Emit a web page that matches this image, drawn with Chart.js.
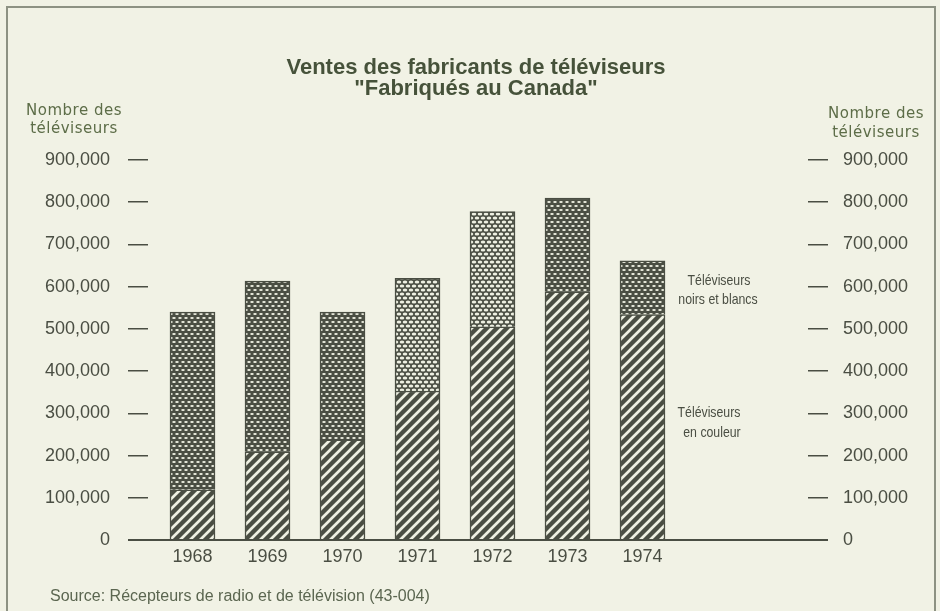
<!DOCTYPE html>
<html><head><meta charset="utf-8">
<script src="https://cdn.jsdelivr.net/npm/chart.js@4.4.0/dist/chart.umd.min.js"></script>
<style>html,body{margin:0;padding:0;background:#f1f2e5;}#wrap{width:940px;height:611px;position:relative;}</style>
</head><body><div id="wrap"><canvas id="c" width="940" height="611"></canvas></div>
<script>
// ---- data ----
const years = [1968, 1969, 1970, 1971, 1972, 1973, 1974];
const colourSets = [119000, 209000, 237000, 353000, 505000, 588000, 534000];
const blackWhiteSets = [421000, 404000, 303000, 267000, 273000, 222000, 127000];
const yTicks = [0, 100000, 200000, 300000, 400000, 500000, 600000, 700000, 800000, 900000];
const titleLines = ['Ventes des fabricants de téléviseurs', '"Fabriqués au Canada"'];
const axisTitleLines = ['Nombre des', 'téléviseurs'];
const bwNote = ['Téléviseurs', 'noirs et blancs'];
const colourNote = ['Téléviseurs', 'en couleur'];
const sourceNote = 'Source: Récepteurs de radio et de télévision (43-004)';

// ---- style ----
const BG = '#f1f2e5', DARK = '#4a4e43', LIGHT = '#eef0e2', TXT = '#4a4e43',
      TITLE = '#46523a', AXT = '#5d6d48', FRAME = '#8d9283';
const lightYears = [1971, 1972];

const canvas = document.getElementById('c');
const ctx = canvas.getContext('2d');

function makeHatch() {
  const t = document.createElement('canvas'); t.width = 10; t.height = 10;
  const g = t.getContext('2d');
  g.fillStyle = DARK; g.fillRect(0, 0, 10, 10);
  g.strokeStyle = LIGHT; g.lineWidth = 2.7; g.beginPath();
  for (const o of [-10, 0, 10]) { g.moveTo(o - 1, 11); g.lineTo(o + 11, -1); }
  g.stroke();
  return ctx.createPattern(t, 'repeat');
}
function makeDots(rx, ry) {
  const t = document.createElement('canvas'); t.width = 6; t.height = 8;
  const g = t.getContext('2d');
  g.fillStyle = DARK; g.fillRect(0, 0, 6, 8);
  g.fillStyle = LIGHT;
  for (const [x, y] of [[3, 2], [0, 6], [6, 6]]) {
    g.beginPath(); g.ellipse(x, y, rx, ry, 0, 0, Math.PI * 2); g.fill();
  }
  return ctx.createPattern(t, 'repeat');
}
const hatch = makeHatch();
const dotsDark = makeDots(1.8, 1.1);
const dotsLight = makeDots(2.3, 1.5);

const deco = {
  id: 'deco',
  beforeDraw(chart) {
    const c = chart.ctx; c.save();
    c.fillStyle = BG; c.fillRect(0, 0, chart.width, chart.height);
    c.strokeStyle = FRAME; c.lineWidth = 2;
    c.strokeRect(7, 7, 928, 650);
    c.restore();
  },
  afterDraw(chart) {
    const c = chart.ctx; c.save();
    c.textAlign = 'center';
    c.fillStyle = TITLE; c.font = 'bold 22px "Liberation Sans", Arial, sans-serif';
    c.textBaseline = 'alphabetic';
    c.fillText(titleLines[0], 476, 74);
    c.fillText(titleLines[1], 476, 95);
    c.textBaseline = 'middle';
    c.fillStyle = AXT; c.font = '15px "DejaVu Sans", sans-serif';
    try { c.letterSpacing = '0.5px'; } catch (e) {}
    c.fillText(axisTitleLines[0], 74, 111);
    c.fillText(axisTitleLines[1], 74, 129);
    c.fillText(axisTitleLines[0], 876, 114);
    c.fillText(axisTitleLines[1], 876, 133);
    try { c.letterSpacing = '0px'; } catch (e) {}
    c.fillStyle = TXT; c.font = '15px "Liberation Sans", Arial, sans-serif';
    const narrow = (s, x, y) => { c.save(); c.translate(x, y); c.scale(0.82, 1); c.fillText(s, 0, 0); c.restore(); };
    narrow(bwNote[0], 719, 281); narrow(bwNote[1], 718, 300);
    narrow(colourNote[0], 709, 413); narrow(colourNote[1], 712, 433);
    c.textAlign = 'left'; c.font = '16px "Liberation Sans", Arial, sans-serif';
    c.fillStyle = '#5b6650';
    c.fillText(sourceNote, 50, 597);
    c.restore();
  }
};

const tickFont = { family: '"Liberation Sans", Arial, sans-serif', size: 18 };
const yScaleBase = (pos) => ({
  position: pos, stacked: true, min: 0, max: 900000,
  afterBuildTicks: s => { s.ticks = yTicks.map(v => ({ value: v })); },
  ticks: { font: tickFont, color: TXT, padding: pos === 'left' ? 18 : 15,
           callback: v => Number(v).toLocaleString('en-US') },
  grid: { display: true, drawOnChartArea: false, drawTicks: true, tickLength: 20,
          color: DARK, lineWidth: c => (c.tick && c.tick.value === 0) ? 2 : 1.5 },
  border: { display: false },
  afterFit: s => { s.width = pos === 'left' ? 148 : 132; }
});

new Chart(ctx, {
  type: 'bar',
  data: {
    labels: years,
    datasets: [
      { label: 'Téléviseurs en couleur', data: colourSets, backgroundColor: hatch,
        borderColor: DARK, borderWidth: 1.5, barThickness: 45, yAxisID: 'y' },
      { label: 'Téléviseurs noirs et blancs', data: blackWhiteSets,
        backgroundColor: c => lightYears.includes(years[c.dataIndex]) ? dotsLight : dotsDark,
        borderColor: DARK, borderWidth: 1.5, barThickness: 45, yAxisID: 'y' }
    ]
  },
  options: {
    responsive: false, animation: false,
    layout: { padding: { top: 160, left: 0, right: 0, bottom: 0 } },
    plugins: { legend: { display: false }, tooltip: { enabled: false }, title: { display: false } },
    scales: {
      x: {
        type: 'linear', stacked: true, offset: false, min: 1967.4067, max: 1976.2067,
        afterBuildTicks: s => { s.ticks = years.map(v => ({ value: v })); },
        ticks: { font: tickFont, color: TXT, padding: 6, maxRotation: 0, autoSkip: false,
                 callback: v => String(v) },
        grid: { display: false, drawTicks: false, offset: false },
        border: { display: true, color: DARK, width: 2 },
        afterFit: s => { s.height = 71; }
      },
      y: yScaleBase('left'),
      y2: yScaleBase('right')
    }
  },
  plugins: [deco]
});
</script></body></html>
